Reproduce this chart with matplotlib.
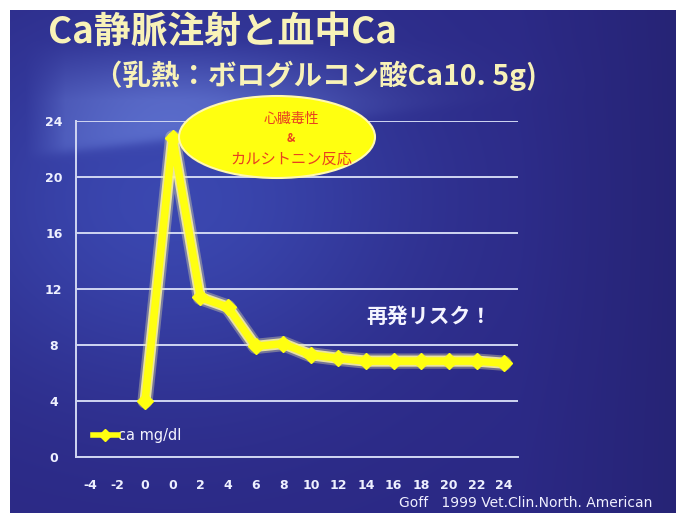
import numpy as np
import matplotlib
matplotlib.use("Agg")
import matplotlib.pyplot as plt
from matplotlib.patches import Ellipse

plt.rcParams['font.family'] = ['Noto Sans CJK JP', 'DejaVu Sans']

x_labels = ["-4", "-2", "0", "0", "2", "4", "6", "8", "10", "12", "14", "16", "18", "20", "22", "24"]
ca_values = [None, None, 4.0, 22.8, 11.4, 10.7, 7.9, 8.1, 7.3, 7.05, 6.85, 6.85, 6.85, 6.85, 6.85, 6.7]
y_ticks = [0, 4, 8, 12, 16, 20, 24]
series_name = "ca mg/dl"
title = "Ca静脈注射と血中Ca"
subtitle = "（乳熱：ボログルコン酸Ca10. 5g)"
bubble_lines = ["心臓毒性", "&", "カルシトニン反応"]
risk_text = "再発リスク！"
source_text = "Goff   1999 Vet.Clin.North. American"

W, H = 676, 513
fig = plt.figure(figsize=(W / 100, H / 100), dpi=100)
fig.patch.set_facecolor("white")

# background
bx0, by0 = 10, 10
bg_ax = fig.add_axes([bx0 / W, 0, 1 - bx0 / W, 1 - by0 / H])
bg_ax.set_axis_off()
yy, xx = np.mgrid[by0:H, bx0:W].astype(float)
base = np.array([0.17, 0.16, 0.52])
img = np.ones(yy.shape + (3,)) * base
blob = np.exp(-(((xx - 170) / 240) ** 2 + ((yy - 200) / 190) ** 2))
img += blob[..., None] * np.array([0.06, 0.12, 0.17])
curve_y = 152 - 0.12 * (xx - 60)
edge = 1 / (1 + np.exp(-(curve_y - yy) / 3.0))
fade_x = np.exp(-((xx - 170) / 190) ** 2) * np.clip((xx - 25) / 40, 0, 1)
fade_top = np.clip((yy - 40) / 60, 0, 1)
img += (edge * fade_x * fade_top)[..., None] * np.array([0.13, 0.16, 0.13])
right = np.clip((xx - 520) / 160, 0, 1)
img -= right[..., None] * np.array([0.02, 0.02, 0.06])
img = np.clip(img, 0, 1)
bg_ax.imshow(img, extent=[0, 1, 0, 1], aspect="auto", origin="upper")

ax = fig.add_axes([76 / W, 1 - 457 / H, (518 - 76) / W, (457 - 121) / H])
ax.patch.set_alpha(0)
xs = np.arange(len(x_labels))
ax.set_xlim(-0.5, len(x_labels) - 0.5)
ax.set_ylim(0, 24)
ax.set_yticks(y_ticks)
ax.set_xticks(xs)
ax.set_xticklabels(x_labels)
ax.grid(axis="y", color="#d0d6f2", linewidth=1.4)
ax.set_axisbelow(True)
for s in ["top", "right"]:
    ax.spines[s].set_visible(False)
for s in ["left", "bottom"]:
    ax.spines[s].set_color("#d0d6f2")
    ax.spines[s].set_linewidth(1.4)
ax.tick_params(length=0, colors="#eef0ff", labelsize=9)
ax.tick_params(axis="x", pad=16)
ax.tick_params(axis="y", pad=16)
for lab in ax.get_xticklabels() + ax.get_yticklabels():
    lab.set_fontweight("bold")
    lab.set_family("DejaVu Sans")
for lab in ax.get_yticklabels():
    lab.set_horizontalalignment("center")

px = [x for x, v in zip(xs, ca_values) if v is not None]
py = [v for v in ca_values if v is not None]
ax.plot(px, py, color="#f6eea0", linewidth=11, alpha=0.35, solid_joinstyle="round",
        solid_capstyle="round", zorder=3)
ax.plot(px, py, color="#f8f0a0", linewidth=8, alpha=0.9, solid_joinstyle="round",
        solid_capstyle="round", zorder=3)
ax.plot(px, py, color="#ffff10", linewidth=5.5, marker="D", markersize=8,
        markeredgecolor="#ffff10", solid_joinstyle="round", zorder=4, clip_on=False)

# legend
ax.plot([0.12, 1.02], [1.57, 1.57], color="#ffff10", linewidth=4, clip_on=False, zorder=5)
ax.plot([0.55], [1.57], marker="D", color="#ffff10", markersize=6, zorder=5)
ax.text(1.02, 1.57, series_name, color="#f4f4ff", fontsize=10.5, va="center", ha="left",
        family="DejaVu Sans")

# bubble
ell = Ellipse((277 / W, 1 - 137 / H), 196 / W, 82 / H, transform=fig.transFigure,
              facecolor="#ffff10", edgecolor="#fff8b0", linewidth=1.5, zorder=10)
fig.patches.append(ell)
fig.text(291 / W, 1 - 119 / H, bubble_lines[0], color="#e84020", fontsize=10, ha="center", va="center", zorder=11)
fig.text(291 / W, 1 - 139 / H, bubble_lines[1], color="#e84020", fontsize=8, ha="center", va="center", zorder=11, fontweight="bold")
fig.text(291 / W, 1 - 159 / H, bubble_lines[2], color="#e84020", fontsize=11, ha="center", va="center", zorder=11)

fig.text(48 / W, 1 - 32 / H, title, color="#f8f2b8", fontsize=26.5, fontweight="bold", ha="left", va="center")
fig.text(94 / W, 1 - 76 / H, subtitle, color="#f8f2b8", fontsize=20.5, fontweight="bold", ha="left", va="center")
fig.text(429 / W, 1 - 316 / H, risk_text, color="#f4f4ff", fontsize=15, fontweight="bold", ha="center", va="center")
fig.text(652 / W, 1 - 503 / H, source_text, color="#f0f0ff", fontsize=10, ha="right", va="center",
         family="DejaVu Sans")

fig.savefig("out.png", dpi=100)
